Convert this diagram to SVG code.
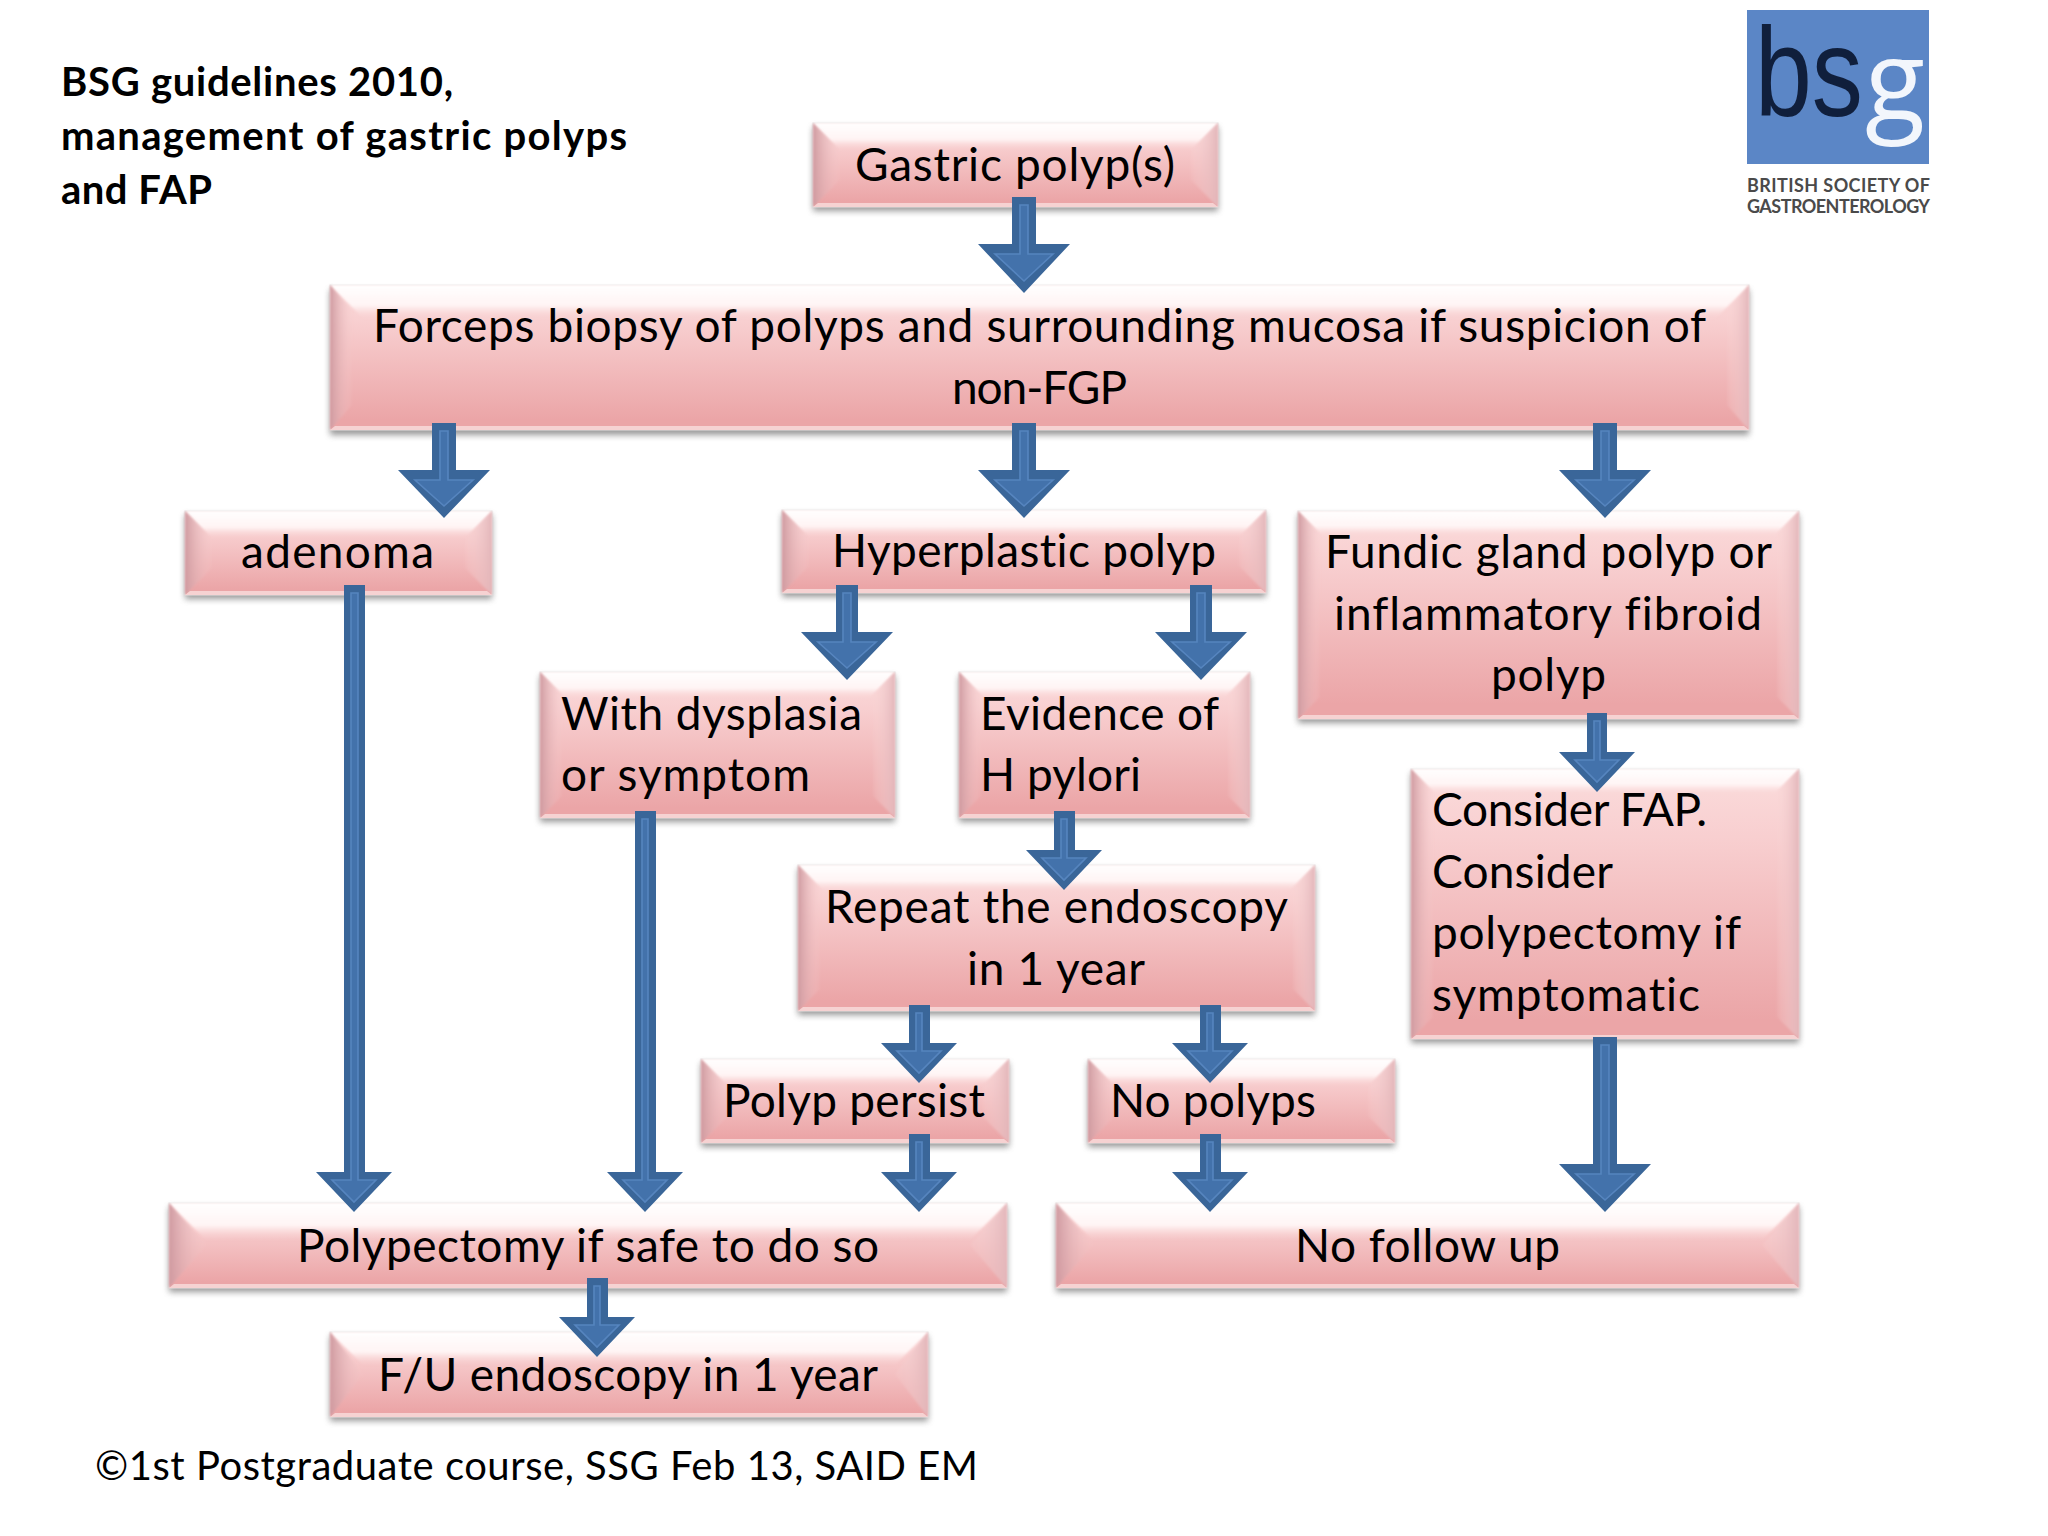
<svg xmlns="http://www.w3.org/2000/svg" width="2048" height="1536" viewBox="0 0 2048 1536">
<defs>
<linearGradient id="face" x1="0" y1="0" x2="0" y2="1"><stop offset="0" stop-color="#fbdcdc"/><stop offset="0.25" stop-color="#f8cfd0"/><stop offset="0.93" stop-color="#eba5a7"/><stop offset="1" stop-color="#eba5a7"/></linearGradient>
<linearGradient id="top" x1="0" y1="0" x2="0" y2="1"><stop offset="0" stop-color="#ffffff"/><stop offset="0.6" stop-color="#fff4f4"/><stop offset="1" stop-color="#f9d5d5" stop-opacity="0"/></linearGradient>
<linearGradient id="left" x1="0" y1="0" x2="1" y2="0"><stop offset="0" stop-color="#cf9aa0"/><stop offset="1" stop-color="#f6cccd" stop-opacity="0.1"/></linearGradient>
<linearGradient id="right" x1="1" y1="0" x2="0" y2="0"><stop offset="0" stop-color="#e3b6ba"/><stop offset="1" stop-color="#f9d8d8" stop-opacity="0.1"/></linearGradient>
<filter id="sh" x="-5%" y="-10%" width="110%" height="130%"><feGaussianBlur stdDeviation="3"/></filter>
<filter id="soft" x="-5%" y="-5%" width="110%" height="110%"><feGaussianBlur stdDeviation="0.9"/></filter>
</defs>
<style>
.s{fill:#6d6d6d;opacity:.7;filter:url(#sh)}
.f{fill:url(#face);stroke:#e8e2e2;stroke-width:1}
.t{fill:url(#top);filter:url(#soft)}
.l{fill:url(#left);filter:url(#soft)}
.r{fill:url(#right);filter:url(#soft)}
.b{fill:#f6d2d2}
text{font-family:Lato,"Noto Sans",sans-serif;font-size:46px;fill:#000;font-variant-ligatures:none}
.h{font-weight:700;font-size:40px}
.foot{font-size:40px}
.ao{fill:#3a6699}
.ai{fill:#4372ab;stroke:#5685bf;stroke-width:1.6}
</style>
<rect width="2048" height="1536" fill="#fff"/>
<g id="title">
<text class="h" x="61" y="96" textLength="392">BSG guidelines 2010,</text>
<text class="h" x="61" y="150" textLength="566">management of gastric polyps</text>
<text class="h" x="61" y="204" textLength="151">and FAP</text>
</g>
<g id="logo">
<rect x="1747" y="10" width="182" height="154" fill="#5b86c6"/>
<text x="1755" y="116" textLength="108" lengthAdjust="spacingAndGlyphs" style="font-family:'Liberation Sans',sans-serif;font-size:126px;fill:#101f3c">bs</text>
<text x="1865" y="120" textLength="60" lengthAdjust="spacingAndGlyphs" style="font-family:'Open Sans',sans-serif;font-size:112px;fill:#f2f6fc">g</text>
<text x="1747" y="192" style="font-size:18px;font-weight:700;fill:#4a4a4a" textLength="183">BRITISH SOCIETY OF</text>
<text x="1747" y="213" style="font-size:18px;font-weight:700;fill:#4a4a4a" textLength="183">GASTROENTEROLOGY</text>
</g>
<g id="n-gastric"><rect class="s" x="813" y="127" width="405" height="84"/><rect class="f" x="813" y="123" width="405" height="84"/><polygon class="t" points="813,123 1218,123 1191,150 840,150"/><polygon class="l" points="813,123 840,150 840,180 813,207"/><polygon class="r" points="1218,123 1191,150 1191,180 1218,207"/><polygon class="b" points="813,207 1218,207 1213,203 818,203"/><text x="855" y="181" textLength="320">Gastric polyp(s)</text></g>
<g id="n-forceps"><rect class="s" x="330" y="290" width="1419" height="145"/><rect class="f" x="330" y="285" width="1419" height="145"/><polygon class="t" points="330,285 1749,285 1715,319 364,319"/><polygon class="l" points="330,285 352,310 352,405 330,430"/><polygon class="r" points="1749,285 1727,310 1727,405 1749,430"/><polygon class="b" points="330,430 1749,430 1744,426 335,426"/><text x="373" y="342" textLength="1333">Forceps biopsy of polyps and surrounding mucosa if suspicion of</text><text x="952" y="404" textLength="175">non-FGP</text></g>
<g id="n-adenoma"><rect class="s" x="185" y="515" width="307" height="84"/><rect class="f" x="185" y="511" width="307" height="84"/><polygon class="t" points="185,511 492,511 465,538 212,538"/><polygon class="l" points="185,511 212,538 212,568 185,595"/><polygon class="r" points="492,511 465,538 465,568 492,595"/><polygon class="b" points="185,595 492,595 487,591 190,591"/><text x="241" y="568" textLength="193">adenoma</text></g>
<g id="n-hyper"><rect class="s" x="782" y="514" width="484" height="83"/><rect class="f" x="782" y="510" width="484" height="83"/><polygon class="t" points="782,510 1266,510 1239,537 809,537"/><polygon class="l" points="782,510 809,537 809,566 782,593"/><polygon class="r" points="1266,510 1239,537 1239,566 1266,593"/><polygon class="b" points="782,593 1266,593 1261,589 787,589"/><text x="832" y="567" textLength="384">Hyperplastic polyp</text></g>
<g id="n-fundic"><rect class="s" x="1298" y="515" width="501" height="208"/><rect class="f" x="1298" y="511" width="501" height="208"/><polygon class="t" points="1298,511 1799,511 1773,537 1324,537"/><polygon class="l" points="1298,511 1320,533 1320,697 1298,719"/><polygon class="r" points="1799,511 1777,533 1777,697 1799,719"/><polygon class="b" points="1298,719 1799,719 1794,715 1303,715"/><text x="1325" y="568" textLength="447">Fundic gland polyp or</text><text x="1334" y="630" textLength="428">inflammatory fibroid</text><text x="1491" y="691" textLength="115">polyp</text></g>
<g id="n-dysplasia"><rect class="s" x="540" y="676" width="355" height="146"/><rect class="f" x="540" y="672" width="355" height="146"/><polygon class="t" points="540,672 895,672 868,699 567,699"/><polygon class="l" points="540,672 562,694 562,796 540,818"/><polygon class="r" points="895,672 873,694 873,796 895,818"/><polygon class="b" points="540,818 895,818 890,814 545,814"/><text x="561" y="730" textLength="301">With dysplasia</text><text x="561" y="791" textLength="249">or symptom</text></g>
<g id="n-evidence"><rect class="s" x="959" y="676" width="291" height="146"/><rect class="f" x="959" y="672" width="291" height="146"/><polygon class="t" points="959,672 1250,672 1223,699 986,699"/><polygon class="l" points="959,672 981,694 981,796 959,818"/><polygon class="r" points="1250,672 1228,694 1228,796 1250,818"/><polygon class="b" points="959,818 1250,818 1245,814 964,814"/><text x="980" y="730" textLength="239">Evidence of</text><text x="980" y="791" textLength="161">H pylori</text></g>
<g id="n-consider"><rect class="s" x="1411" y="773" width="388" height="270"/><rect class="f" x="1411" y="769" width="388" height="270"/><polygon class="t" points="1411,769 1799,769 1773,795 1437,795"/><polygon class="l" points="1411,769 1433,791 1433,1017 1411,1039"/><polygon class="r" points="1799,769 1777,791 1777,1017 1799,1039"/><polygon class="b" points="1411,1039 1799,1039 1794,1035 1416,1035"/><text x="1432" y="826" textLength="275">Consider FAP.</text><text x="1432" y="888" textLength="181">Consider</text><text x="1432" y="949" textLength="309">polypectomy if</text><text x="1432" y="1011" textLength="268">symptomatic</text></g>
<g id="n-repeat"><rect class="s" x="798" y="869" width="517" height="146"/><rect class="f" x="798" y="865" width="517" height="146"/><polygon class="t" points="798,865 1315,865 1288,892 825,892"/><polygon class="l" points="798,865 820,887 820,989 798,1011"/><polygon class="r" points="1315,865 1293,887 1293,989 1315,1011"/><polygon class="b" points="798,1011 1315,1011 1310,1007 803,1007"/><text x="825" y="923" textLength="463">Repeat the endoscopy</text><text x="967" y="985" textLength="178">in 1 year</text></g>
<g id="n-persist"><rect class="s" x="701" y="1063" width="308" height="84"/><rect class="f" x="701" y="1059" width="308" height="84"/><polygon class="t" points="701,1059 1009,1059 982,1086 728,1086"/><polygon class="l" points="701,1059 728,1086 728,1116 701,1143"/><polygon class="r" points="1009,1059 982,1086 982,1116 1009,1143"/><polygon class="b" points="701,1143 1009,1143 1004,1139 706,1139"/><text x="723" y="1117" textLength="262">Polyp persist</text></g>
<g id="n-nopolyps"><rect class="s" x="1088" y="1063" width="307" height="84"/><rect class="f" x="1088" y="1059" width="307" height="84"/><polygon class="t" points="1088,1059 1395,1059 1368,1086 1115,1086"/><polygon class="l" points="1088,1059 1115,1086 1115,1116 1088,1143"/><polygon class="r" points="1395,1059 1368,1086 1368,1116 1395,1143"/><polygon class="b" points="1088,1143 1395,1143 1390,1139 1093,1139"/><text x="1110" y="1117" textLength="206">No polyps</text></g>
<g id="n-polypectomy"><rect class="s" x="169" y="1207" width="838" height="85"/><rect class="f" x="169" y="1203" width="838" height="85"/><polygon class="t" points="169,1203 1007,1203 970,1240 206,1240"/><polygon class="l" points="169,1203 206,1245 169,1288"/><polygon class="r" points="1007,1203 970,1245 1007,1288"/><polygon class="b" points="169,1288 1007,1288 1002,1284 174,1284"/><text x="297" y="1262" textLength="582">Polypectomy if safe to do so</text></g>
<g id="n-nofollow"><rect class="s" x="1056" y="1207" width="743" height="85"/><rect class="f" x="1056" y="1203" width="743" height="85"/><polygon class="t" points="1056,1203 1799,1203 1762,1240 1093,1240"/><polygon class="l" points="1056,1203 1093,1245 1056,1288"/><polygon class="r" points="1799,1203 1762,1245 1799,1288"/><polygon class="b" points="1056,1288 1799,1288 1794,1284 1061,1284"/><text x="1295" y="1262" textLength="265">No follow up</text></g>
<g id="n-fu"><rect class="s" x="330" y="1336" width="598" height="85"/><rect class="f" x="330" y="1332" width="598" height="85"/><polygon class="t" points="330,1332 928,1332 895,1365 363,1365"/><polygon class="l" points="330,1332 363,1374 330,1417"/><polygon class="r" points="928,1332 895,1374 928,1417"/><polygon class="b" points="330,1417 928,1417 923,1413 335,1413"/><text x="378" y="1391" textLength="500">F/U endoscopy in 1 year</text></g>
<text id="footer" class="foot" x="95" y="1480" textLength="883">©1st Postgraduate course, SSG Feb 13, SAID EM</text>
<g id="connectors">
<g><polygon class="ao" points="1012,197 1036,197 1036,244 1070,244 1024,293 978,244 1012,244"/><polygon class="ai" points="1020,205 1028,205 1028,254 1053,254 1024,281 995,254 1020,254"/></g>
<g><polygon class="ao" points="432,423 456,423 456,470 490,470 444,518 398,470 432,470"/><polygon class="ai" points="440,431 448,431 448,480 473,480 444,506 415,480 440,480"/></g>
<g><polygon class="ao" points="1012,423 1036,423 1036,470 1070,470 1024,518 978,470 1012,470"/><polygon class="ai" points="1020,431 1028,431 1028,480 1053,480 1024,506 995,480 1020,480"/></g>
<g><polygon class="ao" points="1593,423 1617,423 1617,470 1651,470 1605,518 1559,470 1593,470"/><polygon class="ai" points="1601,431 1609,431 1609,480 1634,480 1605,506 1576,480 1601,480"/></g>
<g><polygon class="ao" points="344,585 365,585 365,1172 392,1172 354,1212 316,1172 344,1172"/><polygon class="ai" points="351,593 358,593 358,1180 376,1180 354,1202 332,1180 351,1180"/></g>
<g><polygon class="ao" points="836,585 858,585 858,632 893,632 847,680 801,632 836,632"/><polygon class="ai" points="843,593 851,593 851,642 876,642 847,668 818,642 843,642"/></g>
<g><polygon class="ao" points="1190,585 1212,585 1212,632 1247,632 1201,680 1155,632 1190,632"/><polygon class="ai" points="1197,593 1205,593 1205,642 1230,642 1201,668 1172,642 1197,642"/></g>
<g><polygon class="ao" points="1587,713 1607,713 1607,752 1635,752 1597,792 1559,752 1587,752"/><polygon class="ai" points="1594,721 1600,721 1600,760 1619,760 1597,782 1575,760 1594,760"/></g>
<g><polygon class="ao" points="635,811 656,811 656,1172 683,1172 645,1212 607,1172 635,1172"/><polygon class="ai" points="642,819 648,819 648,1180 667,1180 645,1202 623,1180 642,1180"/></g>
<g><polygon class="ao" points="1054,811 1075,811 1075,850 1102,850 1064,890 1026,850 1054,850"/><polygon class="ai" points="1061,819 1067,819 1067,858 1086,858 1064,880 1042,858 1061,858"/></g>
<g><polygon class="ao" points="909,1005 930,1005 930,1043 957,1043 919,1083 881,1043 909,1043"/><polygon class="ai" points="916,1013 922,1013 922,1051 941,1051 919,1073 897,1051 916,1051"/></g>
<g><polygon class="ao" points="1200,1005 1221,1005 1221,1043 1248,1043 1210,1083 1172,1043 1200,1043"/><polygon class="ai" points="1207,1013 1213,1013 1213,1051 1232,1051 1210,1073 1188,1051 1207,1051"/></g>
<g><polygon class="ao" points="909,1134 930,1134 930,1172 957,1172 919,1212 881,1172 909,1172"/><polygon class="ai" points="916,1142 922,1142 922,1180 941,1180 919,1202 897,1180 916,1180"/></g>
<g><polygon class="ao" points="1200,1134 1221,1134 1221,1172 1248,1172 1210,1212 1172,1172 1200,1172"/><polygon class="ai" points="1207,1142 1213,1142 1213,1180 1232,1180 1210,1202 1188,1180 1207,1180"/></g>
<g><polygon class="ao" points="1593,1037 1617,1037 1617,1164 1651,1164 1605,1212 1559,1164 1593,1164"/><polygon class="ai" points="1601,1045 1609,1045 1609,1174 1634,1174 1605,1200 1576,1174 1601,1174"/></g>
<g><polygon class="ao" points="587,1278 608,1278 608,1317 635,1317 597,1357 559,1317 587,1317"/><polygon class="ai" points="594,1286 600,1286 600,1325 619,1325 597,1347 575,1325 594,1325"/></g>
</g>
</svg>
